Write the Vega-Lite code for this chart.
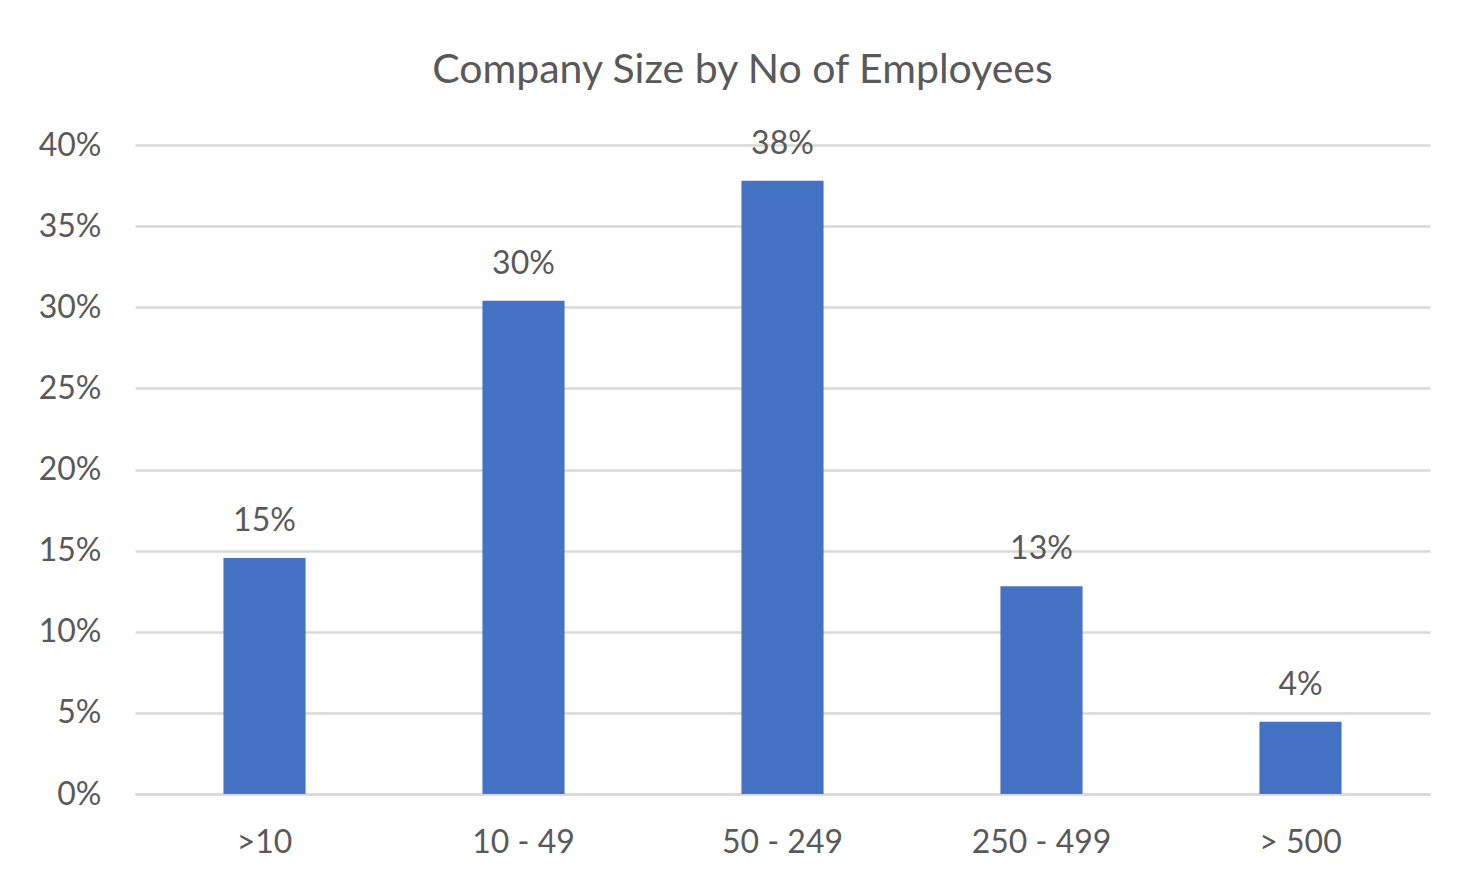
{
  "$schema": "https://vega.github.io/schema/vega-lite/v6.json",
  "autosize": {"type": "none"},
  "width": 1295,
  "height": 649,
  "padding": {"left": 135, "top": 145, "right": 40, "bottom": 87},
  "background": "white",
  "title": {
    "text": "Company Size by No of Employees",
    "anchor": "middle",
    "dx": -40,
    "baseline": "alphabetic",
    "offset": 4,
    "font": "Lato",
    "fontSize": 41,
    "fontWeight": "normal",
    "color": "#595959"
  },
  "data": {
    "values": [
      {"size": ">10", "share": 0.1455},
      {"size": "10 - 49", "share": 0.304},
      {"size": "50 - 249", "share": 0.378},
      {"size": "250 - 499", "share": 0.128},
      {"size": "> 500", "share": 0.0446}
    ]
  },
  "encoding": {
    "x": {
      "field": "size",
      "type": "nominal",
      "sort": null,
      "title": null,
      "scale": {"paddingInner": 0.683, "paddingOuter": 0.3415},
      "axis": {
        "labelAngle": 0,
        "labelFont": "Lato",
        "labelFontSize": 32,
        "labelColor": "#595959",
        "labelPadding": 33,
        "labelBaseline": "top",
        "ticks": false,
        "domainColor": "#d9d9d9",
        "domainWidth": 2.5,
        "grid": false
      }
    },
    "y": {
      "field": "share",
      "type": "quantitative",
      "title": null,
      "scale": {"domain": [0, 0.4], "nice": false},
      "axis": {
        "values": [0, 0.05, 0.1, 0.15, 0.2, 0.25, 0.3, 0.35, 0.4],
        "format": ".0%",
        "labelFont": "Lato",
        "labelFontSize": 32,
        "labelColor": "#595959",
        "labelPadding": 34,
        "ticks": false,
        "domain": false,
        "gridColor": "#d9d9d9",
        "gridWidth": 2.5
      }
    }
  },
  "layer": [
    {"mark": {"type": "bar", "color": "#4472C4"}},
    {
      "mark": {"type": "text", "baseline": "alphabetic", "dy": -27, "font": "Lato", "fontSize": 32, "color": "#595959"},
      "encoding": {"text": {"field": "share", "format": ".0%"}}
    }
  ],
  "config": {"view": {"stroke": null}}
}
